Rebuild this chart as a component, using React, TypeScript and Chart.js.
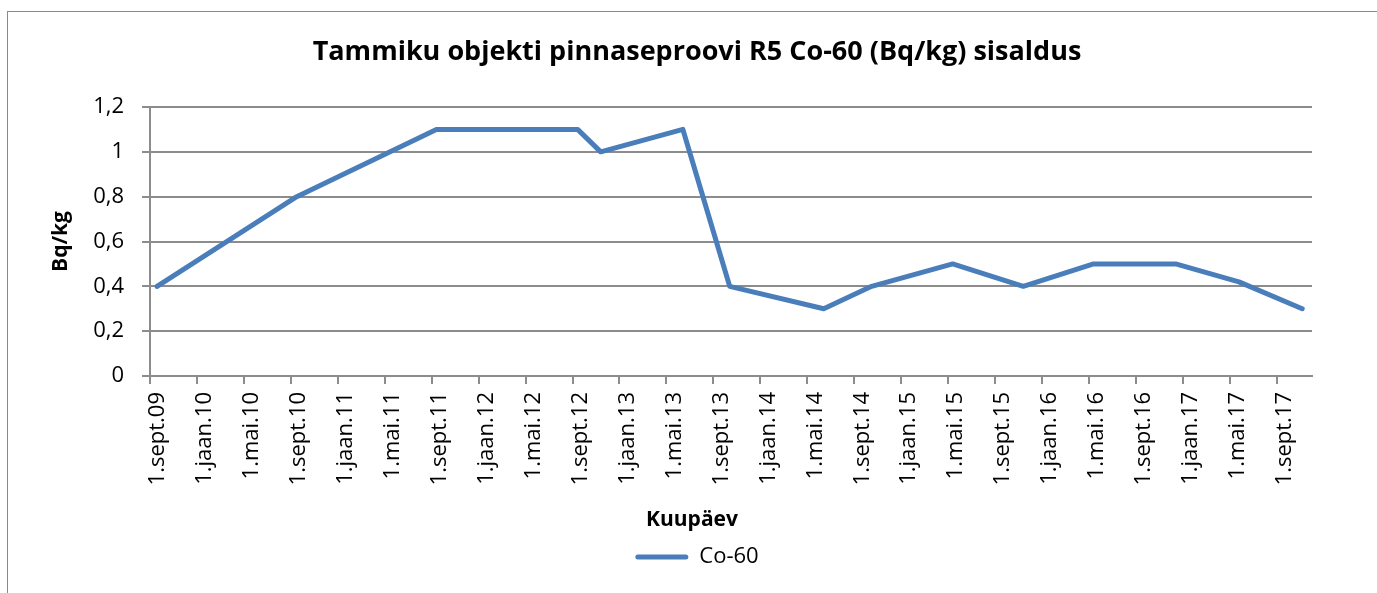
import React, { useEffect, useRef } from "react";
import { Chart, registerables } from "chart.js";

Chart.register(...registerables);

// ---- data ----
const chartTitle = "Tammiku objekti pinnaseproovi R5 Co-60 (Bq/kg) sisaldus";
const yAxisTitle = "Bq/kg";
const xAxisTitle = "Kuupäev";
const seriesName = "Co-60";

const axisStartDate = "2009-09-01";
const axisEndDate = "2017-12-01";

const tickLabels = [
  "1.sept.09", "1.jaan.10", "1.mai.10",
  "1.sept.10", "1.jaan.11", "1.mai.11",
  "1.sept.11", "1.jaan.12", "1.mai.12",
  "1.sept.12", "1.jaan.13", "1.mai.13",
  "1.sept.13", "1.jaan.14", "1.mai.14",
  "1.sept.14", "1.jaan.15", "1.mai.15",
  "1.sept.15", "1.jaan.16", "1.mai.16",
  "1.sept.16", "1.jaan.17", "1.mai.17",
  "1.sept.17",
];
const tickStepMonths = 4;

const sampleDates = [
  "2009-09-19", "2010-09-16", "2011-09-13", "2012-09-14", "2012-11-13",
  "2013-06-13", "2013-10-13", "2014-06-13", "2014-10-16", "2015-05-13",
  "2015-11-13", "2016-05-13", "2016-12-13", "2017-05-25", "2017-11-06",
];
const co60Values = [
  0.4, 0.8, 1.1, 1.1, 1.0,
  1.1, 0.4, 0.3, 0.4, 0.5,
  0.4, 0.5, 0.5, 0.42, 0.3,
];

const yTickValues = [0, 0.2, 0.4, 0.6, 0.8, 1, 1.2];

// months elapsed since axis start (fractional)
function monthsFromStart(dateStr: string): number {
  const [y, m, d] = dateStr.split("-").map(Number);
  const [sy, sm] = axisStartDate.split("-").map(Number);
  const dim = new Date(y, m, 0).getDate();
  return (y - sy) * 12 + (m - sm) + (d - 1) / dim;
}

const FONT = '"Open Sans", "DejaVu Sans", sans-serif';
const LINE_COLOR = "#4A7EBB";
const GRID_COLOR = "#8c8c8c";

export default function App() {
  const canvasRef = useRef<HTMLCanvasElement | null>(null);

  useEffect(() => {
    const canvas = canvasRef.current;
    if (!canvas) return;

    const points = sampleDates.map((d, i) => ({ x: monthsFromStart(d), y: co60Values[i] }));

    const extraText = {
      id: "extraText",
      afterDraw(chart: any) {
        const ctx = chart.ctx;
        ctx.save();
        ctx.font = `bold 21px ${FONT}`;
        ctx.fillStyle = "#000";
        ctx.textAlign = "center";
        ctx.textBaseline = "middle";
        ctx.fillText(xAxisTitle, 692, 520);
        ctx.restore();
      },
    };

    const chart = new Chart(canvas, {
      type: "line",
      data: {
        datasets: [
          {
            label: seriesName,
            data: points,
            borderColor: LINE_COLOR,
            backgroundColor: LINE_COLOR,
            borderWidth: 5,
            pointRadius: 0,
            tension: 0,
            borderCapStyle: "round",
            borderJoinStyle: "round",
          },
        ],
      },
      options: {
        responsive: false,
        animation: false,
        events: [],
        layout: { padding: { left: 82, right: 82, top: 0, bottom: 15 } },
        plugins: {
          tooltip: { enabled: false },
          title: {
            display: true,
            text: chartTitle,
            color: "#000",
            font: { family: FONT, size: 27, weight: "bold" },
            padding: { top: 36, bottom: 38.6 },
          },
          legend: {
            display: true,
            position: "bottom",
            labels: {
              color: "#000",
              font: { family: FONT, size: 22 },
              boxWidth: 53,
              boxHeight: 5,
              padding: 10,
              generateLabels: () => [
                {
                  text: seriesName,
                  fillStyle: LINE_COLOR,
                  strokeStyle: LINE_COLOR,
                  lineWidth: 0,
                  borderRadius: 2.5,
                  hidden: false,
                  datasetIndex: 0,
                } as any,
              ],
            },
          },
        },
        scales: {
          x: {
            type: "linear",
            min: 0,
            max: monthsFromStart(axisEndDate),
            afterBuildTicks: (scale: any) => {
              scale.ticks = tickLabels.map((_, i) => ({ value: i * tickStepMonths }));
            },
            afterFit: (scale: any) => {
              scale.height = 160;
            },
            ticks: {
              autoSkip: false,
              minRotation: 90,
              maxRotation: 90,
              padding: 8,
              labelOffset: 8,
              color: "#000",
              font: { family: FONT, size: 22 },
              callback: (_v: any, i: number) => tickLabels[i],
            },
            grid: {
              drawOnChartArea: false,
              drawTicks: true,
              tickLength: 8,
              color: GRID_COLOR,
              lineWidth: 2,
            },
            border: { display: true, color: GRID_COLOR, width: 2 },
          },
          y: {
            type: "linear",
            min: 0,
            max: 1.2,
            afterBuildTicks: (scale: any) => {
              scale.ticks = yTickValues.map((v) => ({ value: v }));
            },
            afterFit: (scale: any) => {
              scale.width = 68;
            },
            ticks: {
              padding: 18,
              color: "#000",
              font: { family: FONT, size: 22 },
              callback: (v: any) => String(Number(Number(v).toFixed(1))).replace(".", ","),
            },
            grid: {
              drawTicks: true,
              tickLength: 8,
              color: GRID_COLOR,
              lineWidth: 2,
            },
            border: { display: true, color: GRID_COLOR, width: 2 },
            title: {
              display: true,
              text: yAxisTitle,
              color: "#000",
              font: { family: FONT, size: 21, weight: "bold" },
              padding: { top: -33.6, bottom: 0 },
            },
          },
        },
      },
      plugins: [extraText],
    } as any);

    return () => chart.destroy();
  }, []);

  return (
    <div style={{ position: "absolute", left: 0, top: 0, width: 1377, height: 593, overflow: "hidden", background: "#fff" }}>
      <div
        style={{
          position: "absolute",
          left: 7,
          top: 11,
          width: 1370,
          height: 582,
          boxSizing: "border-box",
          borderLeft: "1px solid #8a8a8a",
          borderTop: "1px solid #8a8a8a",
        }}
      />
      <canvas
        ref={canvasRef}
        width={1394}
        height={593}
        style={{ position: "absolute", left: 0, top: 0, width: 1394, height: 593 }}
      />
    </div>
  );
}
